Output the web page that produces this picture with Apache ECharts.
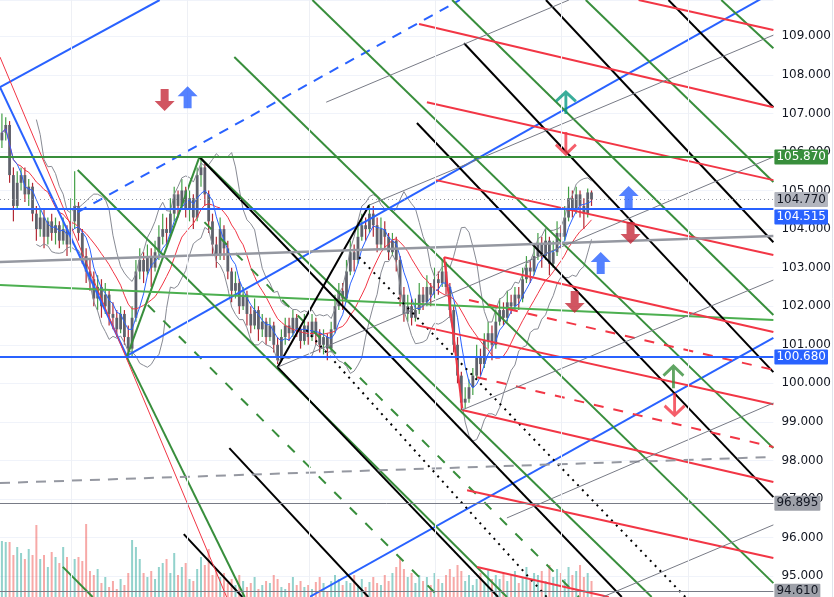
<!DOCTYPE html>
<html lang="en">
<head>
<meta charset="UTF-8" />
<title>Chart</title>
<script src="https://cdn.jsdelivr.net/npm/echarts@6/dist/echarts.min.js"></script>
<style>
  html, body { margin: 0; padding: 0; background: #fff; }
  #app { width: 834px; height: 597px; }
</style>
</head>
<body>
<div id="app"></div>
<script>
// bars: [open, close, low, high], one per session
const candles = [
  [106.3,106.5,106.1,107.0],[106.5,106.7,106.3,106.9],[106.7,105.4,105.2,106.8],[105.4,104.6,104.2,105.6],
  [104.6,105.2,104.5,105.5],[105.2,105.4,105.0,105.6],[105.4,104.9,104.7,105.6],[104.9,105.1,104.6,105.3],
  [105.1,104.4,104.2,105.2],[104.4,104.0,103.7,104.6],[104.0,104.3,103.8,104.5],[104.3,103.8,103.5,104.5],
  [103.8,104.2,103.6,104.3],[104.2,103.9,103.7,104.4],[103.9,104.1,103.6,104.3],[104.1,103.7,103.5,104.2],
  [103.7,104.0,103.6,104.3],[104.0,103.6,103.3,104.1],[103.6,104.2,103.4,104.8],[104.2,104.6,104.0,105.5],
  [104.6,103.9,103.7,104.7],[103.9,103.3,103.1,104.0],[103.3,102.9,102.6,103.5],[102.9,102.7,102.4,103.2],
  [102.7,102.2,102.0,102.9],[102.2,102.5,101.9,102.8],[102.5,102.0,101.7,102.7],[102.0,102.3,101.8,102.6],
  [102.3,101.8,101.5,102.4],[101.8,101.7,101.4,102.1],[101.7,101.4,101.2,101.9],[101.4,101.8,101.3,102.0],
  [101.8,101.2,101.0,101.9],[101.2,100.9,100.65,101.5],[100.9,101.7,100.7,102.0],[101.7,102.9,101.6,103.2],
  [102.9,103.2,102.7,103.5],[103.2,102.9,102.6,103.4],[102.9,103.3,102.8,103.6],[103.3,103.0,102.5,103.5],
  [103.0,103.4,102.9,103.7],[103.4,103.8,103.2,104.1],[103.8,104.0,103.6,104.4],[104.0,103.9,103.6,104.3],
  [103.9,104.4,103.8,104.8],[104.4,104.9,104.2,105.1],[104.9,104.6,104.3,105.0],[104.6,105.0,104.5,105.3],
  [105.0,104.5,104.3,105.1],[104.5,104.8,104.2,105.0],[104.8,104.3,104.0,104.9],[104.3,105.4,104.2,105.6],
  [105.4,105.6,105.1,105.87],[105.6,104.9,104.6,105.7],[104.9,104.2,103.9,105.0],[104.2,103.6,103.3,104.4],
  [103.6,103.3,103.0,103.8],[103.3,104.0,103.2,104.3],[104.0,103.5,103.2,104.1],[103.5,102.9,102.7,103.7],
  [102.9,102.4,102.1,103.0],[102.4,102.6,102.2,102.9],[102.6,102.0,101.8,102.7],[102.0,102.3,101.9,102.5],
  [102.3,101.8,101.5,102.4],[101.8,101.5,101.3,102.0],[101.5,101.9,101.4,102.2],[101.9,101.4,101.1,102.0],
  [101.4,101.6,101.2,101.8],[101.6,101.2,101.0,101.7],[101.2,101.5,101.1,101.7],[101.5,101.0,100.8,101.6],
  [101.0,100.6,100.5,101.2],[100.6,101.2,100.55,101.4],[101.2,101.5,101.0,101.7],[101.5,101.3,101.1,101.7],
  [101.3,101.7,101.2,101.9],[101.7,101.4,101.2,101.8],[101.4,101.1,100.9,101.5],[101.1,101.5,101.0,101.8],
  [101.5,101.2,101.0,101.6],[101.2,101.6,101.1,101.8],[101.6,101.3,101.0,101.7],[101.3,101.0,100.8,101.4],
  [101.0,101.2,100.75,101.4],[101.2,100.9,100.6,101.3],[100.9,101.4,100.8,101.6],[101.4,102.0,101.3,102.3],
  [102.0,102.4,101.9,102.6],[102.4,102.2,101.9,102.6],[102.2,102.9,102.1,103.2],[102.9,103.4,102.8,103.7],
  [103.4,103.2,102.9,103.6],[103.2,103.8,103.1,104.1],[103.8,104.1,103.7,104.4],[104.1,104.0,103.7,104.3],
  [104.0,104.4,103.9,104.65],[104.4,104.1,103.8,104.6],[104.1,103.6,103.4,104.3],[103.6,104.0,103.5,104.3],
  [104.0,103.8,103.5,104.2],[103.8,103.4,103.2,103.9],[103.4,103.7,103.3,103.9],[103.7,103.2,102.9,103.8],
  [103.2,102.3,102.0,103.3],[102.3,101.8,101.6,102.5],[101.8,102.0,101.6,102.3],[102.0,101.7,101.5,102.2],
  [101.7,101.9,101.6,102.2],[101.9,102.3,101.8,102.6],[102.3,102.1,101.9,102.5],[102.1,102.5,102.0,102.8],
  [102.5,102.3,102.0,102.6],[102.3,102.7,102.2,103.0],[102.7,102.6,102.3,102.9],[102.6,102.9,102.5,103.2],
  [102.9,102.5,102.3,103.15],[102.5,101.9,101.7,102.6],[101.9,101.0,100.8,102.0],[101.0,100.2,100.0,101.2],
  [100.2,99.5,99.3,100.3],[99.5,99.6,99.35,99.9],[99.6,99.9,99.5,100.1],[99.9,100.2,99.7,100.4],
  [100.2,100.7,100.1,101.0],[100.7,100.5,100.2,100.9],[100.5,101.1,100.4,101.3],[101.1,101.3,100.9,101.6],
  [101.3,101.0,100.6,101.5],[101.0,101.6,100.9,101.9],[101.6,101.9,101.5,102.2],[101.9,101.7,101.5,102.1],
  [101.7,102.1,101.6,102.4],[102.1,102.0,101.8,102.3],[102.0,102.3,101.9,102.5],[102.3,102.2,101.9,102.5],
  [102.2,102.7,102.1,103.0],[102.7,103.0,102.6,103.3],[103.0,102.9,102.6,103.2],[102.9,103.3,102.8,103.6],
  [103.3,103.6,103.2,103.9],[103.6,103.3,103.0,103.8],[103.3,103.7,103.2,104.0],[103.7,103.1,102.8,103.8],
  [103.1,103.4,103.0,103.7],[103.4,103.9,103.3,104.2],[103.9,103.8,103.5,104.1],[103.8,104.3,103.7,104.6],
  [104.3,104.8,104.2,105.1],[104.8,104.5,104.3,105.0],[104.5,104.9,104.4,105.1],[104.9,104.6,104.3,105.0],
  [104.6,104.4,104.0,104.8],[104.4,104.95,104.3,105.05],[104.95,104.77,104.6,105.0]
];

const volumes = [
  56,55,55,42,50,44,38,48,42,72, 38,42,30,45,40,34,50,40,22,38,
  40,36,73,26,22,28,14,20,10,16, 8,18,12,24,57,50,38,24,20,26,
  18,30,34,38,24,44,22,30,34,18, 16,28,40,32,48,22,28,20,24,14,
  18,12,22,16,10,14,20,8,12,16, 14,22,18,10,8,14,20,12,16,10,
  12,8,15,20,14,6,16,22,18,12, 16,14,22,12,18,10,15,20,14,12,
  22,16,24,30,40,28,20,24,14,22, 16,20,12,24,18,14,22,28,20,32,
  26,16,22,12,18,24,14,28,18,22, 18,24,16,22,26,14,20,30,18,24,
  22,26,16,32,20,28,24,18,30,22, 26,32,20,24,16
];

// drawing tools: [bar1, price1, bar2, price2, style]
const trendLines = [
  [-0.5, 107.68, 32.6, 100.71, 'blue'],
  [-0.5, 107.68, 41.2, 109.94, 'blue'],
  [32.6, 100.71, 201.5, 110.15, 'blue'],
  [19.8, 104.44, 119.6, 109.94, 'blueDash'],
  [80.3, 94.46, 201.5, 101.18, 'blue'],
  [81.1, 109.94, 201.5, 98.32, 'green'],
  [117.6, 109.94, 201.5, 101.77, 'green'],
  [152.5, 109.94, 201.5, 105.22, 'green'],
  [187.9, 109.94, 201.5, 108.69, 'green'],
  [60.7, 108.46, 201.5, 94.82, 'green'],
  [19.8, 105.53, 131.9, 94.46, 'green'],
  [32.6, 100.68, 63.4, 94.46, 'green'],
  [15.9, 95.24, 23.7, 94.46, 'green'],
  [51.6, 105.87, 169.7, 94.46, 'green'],
  [32.6, 100.68, 51.6, 105.87, 'green'],
  [-0.5, 102.55, 201.5, 101.64, 'greenLight'],
  [38.1, 102.03, 114.2, 94.46, 'greenDash'],
  [52.9, 104.18, 150.7, 94.46, 'greenDash'],
  [51.6, 105.87, 161.9, 94.46, 'black'],
  [72.0, 100.42, 129.6, 94.46, 'black'],
  [59.4, 98.32, 95.7, 94.46, 'black'],
  [47.5, 96.09, 62.8, 94.46, 'black'],
  [108.4, 106.75, 201.5, 97.05, 'black'],
  [120.7, 108.82, 201.5, 100.29, 'black'],
  [142.1, 109.94, 201.5, 103.66, 'black'],
  [174.1, 109.94, 201.5, 107.16, 'black'],
  [72.0, 100.42, 95.9, 104.62, 'black'],
  [79.5, 101.38, 142.3, 94.46, 'blackDot'],
  [93.3, 103.27, 178.5, 94.46, 'blackDot'],
  [108.96, 109.32, 201.5, 107.16, 'red'],
  [111.0, 107.29, 201.5, 105.27, 'red'],
  [166.3, 109.94, 201.5, 109.16, 'red'],
  [113.4, 105.27, 201.5, 103.33, 'red'],
  [115.5, 103.27, 201.5, 101.33, 'red'],
  [115.5, 103.27, 120.2, 99.36, 'red'],
  [108.2, 101.51, 201.5, 99.46, 'red'],
  [120.2, 99.31, 201.5, 97.44, 'red'],
  [121.5, 97.23, 201.5, 95.47, 'red'],
  [124.1, 95.24, 158.5, 94.46, 'red'],
  [122.0, 102.16, 201.5, 100.35, 'redDash'],
  [124.1, 100.16, 201.5, 98.35, 'redDash'],
  [-0.5, 108.46, 58.7, 94.46, 'redThin'],
  [-0.5, 103.145, 201.5, 103.82, 'grayThick'],
  [-0.5, 97.415, 201.5, 98.09, 'grayDash'],
  [95.9, 104.62, 201.5, 109.03, 'grayThin'],
  [72.0, 100.42, 201.5, 105.87, 'grayThin'],
  [120.2, 99.31, 201.5, 102.68, 'grayThin'],
  [131.9, 96.51, 201.5, 99.49, 'grayThin'],
  [156.9, 94.46, 201.5, 96.33, 'grayThin'],
  [84.7, 107.29, 148.1, 109.94, 'grayThin']
];

// horizontal levels with price tags
const levelPrices = [105.87, 104.77, 104.515, 100.68, 96.895, 94.61];
const levelKinds = ['green', 'last', 'blue', 'blue', 'gray', 'gray'];

// signal arrows: [bar, price, kind]
const signals = [
  [42.5, 107.35, 'downFill'], [48.5, 107.42, 'upFill'],
  [147.3, 107.27, 'upTeal'], [147.3, 106.23, 'downLine'],
  [163.7, 104.83, 'upFill'], [164.2, 103.90, 'downFill'],
  [156.4, 103.12, 'upFill'], [149.6, 102.11, 'downFill'],
  [175.4, 100.16, 'upGreen'], [175.7, 99.46, 'downLine']
];

// session separators (bar index)
const sessionBars = [18, 48.5, 80.3, 113.1, 146.2, 179.3];

const styles = {
  blue:       { color: '#2962ff', width: 2, type: 'solid' },
  blueDash:   { color: '#2962ff', width: 2, type: [10, 8] },
  green:      { color: '#388e3c', width: 2, type: 'solid' },
  greenLight: { color: '#4caf50', width: 2, type: 'solid' },
  greenDash:  { color: '#388e3c', width: 2, type: [10, 12] },
  black:      { color: '#000000', width: 2, type: 'solid' },
  blackDot:   { color: '#000000', width: 2, type: [2, 5] },
  red:        { color: '#f23645', width: 2, type: 'solid' },
  redDash:    { color: '#f23645', width: 2, type: [10, 10] },
  redThin:    { color: '#f23645', width: 1, type: 'solid' },
  grayThick:  { color: '#9598a1', width: 2.5, type: 'solid' },
  grayDash:   { color: '#9598a1', width: 2, type: [10, 8] },
  grayThin:   { color: '#787b86', width: 1, type: 'solid' }
};

const levelStyles = {
  green: { line: { color: '#388e3c', width: 2, type: 'solid' }, bg: '#388e3c', fg: '#ffffff' },
  last:  { line: { color: '#9598a1', width: 1, type: [1, 3] }, bg: '#b2b5be', fg: '#131722' },
  blue:  { line: { color: '#2962ff', width: 2, type: 'solid' }, bg: '#2962ff', fg: '#ffffff' },
  gray:  { line: { color: '#787b86', width: 1, type: 'solid' }, bg: '#9ea1a9', fg: '#131722' }
};

const arrowPaths = {
  upFill:   'path://M10,0 L20,10 L14,10 L14,22 L6,22 L6,10 L0,10 Z',
  downFill: 'path://M6,0 L14,0 L14,12 L20,12 L10,22 L0,12 L6,12 Z',
  upLine:   'path://M1,10 L10,1 L19,10 M10,1 L10,22',
  downLine: 'path://M10,0 L10,21 M1,12 L10,21 L19,12'
};
const arrowLook = {
  upFill:   { symbol: arrowPaths.upFill, color: '#2962ff', border: null },
  downFill: { symbol: arrowPaths.downFill, color: '#c62a3a', border: null },
  upTeal:   { symbol: arrowPaths.upLine, color: 'rgba(0,0,0,0)', border: '#089981' },
  upGreen:  { symbol: arrowPaths.upLine, color: 'rgba(0,0,0,0)', border: '#388e3c' },
  downLine: { symbol: arrowPaths.downLine, color: 'rgba(0,0,0,0)', border: '#f23645' }
};

const closes = candles.map(d => d[1]);

function sma(arr, n) {
  return arr.map((_, i) => {
    const s = arr.slice(Math.max(0, i - n + 1), i + 1);
    return s.reduce((a, b) => a + b, 0) / s.length;
  });
}
function bands(arr, n, k) {
  const up = [], lo = [];
  arr.forEach((_, i) => {
    if (i < n - 1) return;
    const s = arr.slice(i - n + 1, i + 1);
    const m = s.reduce((a, b) => a + b, 0) / n;
    const sd = Math.sqrt(s.reduce((a, b) => a + (b - m) * (b - m), 0) / n);
    up.push([i, m + k * sd]);
    lo.push([i, m - k * sd]);
  });
  return [up, lo];
}

const fastMA = sma(closes, 5).map((v, i) => [i, v]);
const slowMA = sma(closes, 13).map((v, i) => [i, v]);
const [bbUp, bbLo] = bands(closes, 10, 2);

const chart = echarts.init(document.getElementById('app'));

const lineSeries = trendLines.map(t => {
  const st = styles[t[4]];
  return {
    type: 'line',
    data: [[t[0], t[1]], [t[2], t[3]]],
    showSymbol: false,
    symbol: 'none',
    silent: true,
    z: 4,
    lineStyle: { color: st.color, width: st.width, type: st.type }
  };
});

const levelLines = levelPrices.map((p, i) => {
  const st = levelStyles[levelKinds[i]];
  return {
    yAxis: p,
    lineStyle: st.line,
    label: {
      show: true,
      position: 'end',
      distance: 1,
      formatter: p.toFixed(3),
      backgroundColor: st.bg,
      color: st.fg,
      fontSize: 12,
      fontFamily: 'DejaVu Sans',
      padding: [2, 2, 1, 2],
      borderRadius: 1,
      offset: levelKinds[i] === 'blue' && p > 104 ? [0, 8] : [0, 0]
    }
  };
});

chart.setOption({
  animation: false,
  backgroundColor: '#ffffff',
  grid: { left: 0, right: 59, top: 0, bottom: 0 },
  xAxis: {
    type: 'value', min: -0.5, max: 201.5,
    show: false
  },
  yAxis: [
    {
      type: 'value', position: 'right', min: 94.46, max: 109.94, splitNumber: 15,
      axisLine: { show: false }, axisTick: { show: false },
      axisLabel: {
        color: '#131722', fontSize: 12, fontFamily: 'DejaVu Sans', margin: 8,
        showMinLabel: false, showMaxLabel: false,
        formatter: v => v.toFixed(3)
      },
      splitLine: { lineStyle: { color: '#f0f3fa', width: 1 } }
    },
    { type: 'value', min: 0, max: 597, show: false }
  ],
  graphic: [
    { type: 'line', shape: { x1: 832.5, y1: 0, x2: 832.5, y2: 597 }, style: { stroke: '#e0e3eb', lineWidth: 1 } }
  ],
  series: [
    {
      type: 'custom',
      yAxisIndex: 1,
      silent: true,
      z: 1,
      data: volumes.map((v, i) => [i, v, candles[i][1] >= candles[i][0] ? 1 : 0]),
      renderItem: (params, api) => {
        const p = api.coord([api.value(0), api.value(1)]);
        const b = api.coord([api.value(0), 0]);
        return {
          type: 'rect',
          shape: { x: p[0] - 1, y: p[1], width: 2, height: b[1] - p[1] },
          style: { fill: api.value(2) ? 'rgba(38,166,154,0.5)' : 'rgba(239,83,80,0.5)' }
        };
      }
    },
    {
      type: 'line', data: [], silent: true, z: 1,
      markLine: {
        silent: true, symbol: 'none',
        label: { show: false },
        lineStyle: { color: '#eef0f5', width: 1, type: 'solid' },
        data: sessionBars.map(b => ({ xAxis: b }))
      }
    },
    {
      type: 'custom',
      silent: true,
      z: 2,
      data: candles.map((d, i) => [i, d[0], d[1], d[2], d[3]]),
      encode: { x: 0, y: [1, 2, 3, 4] },
      renderItem: (params, api) => {
        const i = api.value(0);
        const o = api.value(1), c = api.value(2);
        const pO = api.coord([i, o]), pC = api.coord([i, c]);
        const pL = api.coord([i, api.value(3)]), pH = api.coord([i, api.value(4)]);
        const up = c >= o;
        const w = 2.8;
        const top = Math.min(pO[1], pC[1]);
        const h = Math.max(Math.abs(pO[1] - pC[1]), 1);
        return {
          type: 'group',
          children: [
            { type: 'line', shape: { x1: pH[0], y1: pH[1], x2: pL[0], y2: pL[1] },
              style: { stroke: up ? '#43a047' : '#b22833', lineWidth: 1.2 } },
            { type: 'rect', shape: { x: pO[0] - w / 2, y: top, width: w, height: h },
              style: { fill: '#5f626c' } }
          ]
        };
      }
    },
    { type: 'line', data: bbUp, showSymbol: false, silent: true, z: 3, lineStyle: { color: '#888b94', width: 1 } },
    { type: 'line', data: bbLo, showSymbol: false, silent: true, z: 3, lineStyle: { color: '#888b94', width: 1 } },
    { type: 'line', data: slowMA, showSymbol: false, silent: true, z: 3, lineStyle: { color: '#f23645', width: 1 } },
    { type: 'line', data: fastMA, showSymbol: false, silent: true, z: 3, lineStyle: { color: '#2962ff', width: 1 } },
    ...lineSeries,
    {
      type: 'line', data: [], silent: true, z: 5,
      markLine: { silent: true, symbol: 'none', data: levelLines }
    },
    {
      type: 'scatter',
      silent: true,
      z: 6,
      data: signals.map(s => {
        const look = arrowLook[s[2]];
        return {
          value: [s[0], s[1]],
          symbol: look.symbol,
          symbolSize: [20, 22],
          itemStyle: look.border
            ? { color: look.color, borderColor: look.border, borderWidth: 3 }
            : { color: look.color }
        };
      })
    }
  ]
});
</script>
</body>
</html>
